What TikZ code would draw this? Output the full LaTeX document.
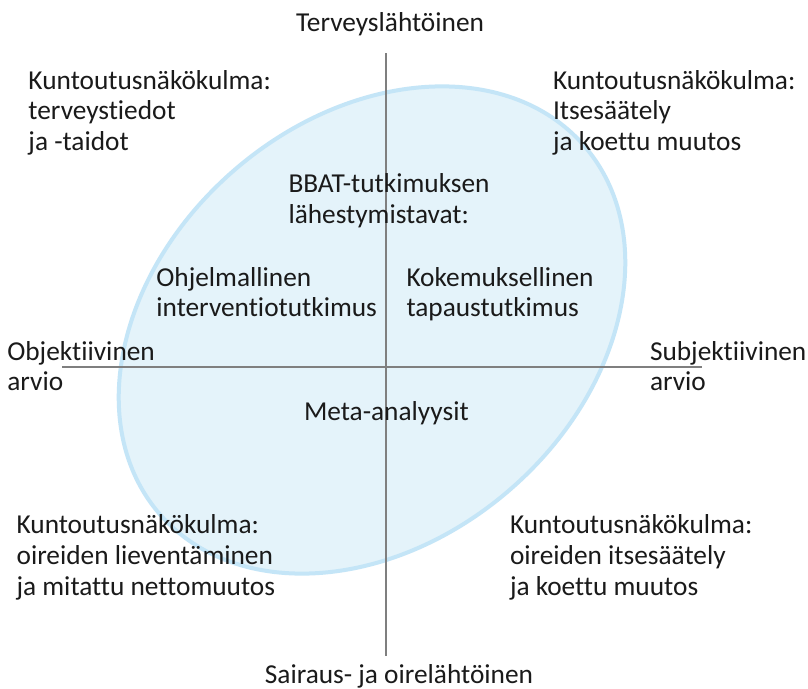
\documentclass[tikz,border=0pt]{standalone}
\usepackage{fontspec}
\setmainfont{Carlito}[Ligatures={NoCommon}]
\definecolor{ellfill}{HTML}{E4F3FA}
\definecolor{elldraw}{HTML}{C4E5F7}
\definecolor{axisgray}{HTML}{7F7F7F}
\definecolor{txt}{HTML}{1A1A1A}
\begin{document}
\begin{tikzpicture}[x=0.75pt,y=-0.75pt,
  lbl/.style={anchor=base west,inner sep=0pt,outer sep=0pt,align=left,text=txt,
    font=\fontsize{20.5pt}{22.9pt}\selectfont},
  axisline/.style={draw=axisgray,line width=1.5pt}]
\fill[white] (0,0) rectangle (808,689);
\useasboundingbox (0,0) rectangle (808,689);
% ellipse
\draw[fill=ellfill,draw=elldraw,line width=3pt] (372,330) ellipse[x radius=281*0.75pt,y radius=211*0.75pt,rotate=41];
% axes
\coordinate (vt) at (386,53);
\coordinate (vb) at (386,656);
\coordinate (hl) at (62,367);
\coordinate (hr) at (702,367);
\draw[axisline] (vt) -- (vb);
\draw[axisline] (hl) -- (hr);
% texts (anchor = baseline of the last line)
\node[lbl,anchor=base] (top) at (390,31.7) {Terveyslähtöinen};
\node[lbl,anchor=base] (bot) at (399,683) {Sairaus- ja oirelähtöinen};
\node[lbl] (tl) at (28.5,150.4) {Kuntoutusnäkökulma:\\terveystiedot\\ja -taidot};
\node[lbl] (tr) at (553,150.4) {Kuntoutusnäkökulma:\\Itsesäätely\\ja koettu muutos};
\node[lbl] (bbat) at (288.5,223) {BBAT-tutkimuksen\\lähestymistavat:};
\node[lbl] (ohj) at (156.4,316.8) {Ohjelmallinen\\interventiotutkimus};
\node[lbl] (kok) at (406.5,316.8) {Kokemuksellinen\\tapaustutkimus};
\node[lbl] (obj) at (7.3,390.9) {Objektiivinen\\arvio};
\node[lbl] (subj) at (650,390.9) {Subjektiivinen\\arvio};
\node[lbl] (meta) at (304,420.7) {Meta-analyysit};
\node[lbl] (bl) at (16.6,595) {Kuntoutusnäkökulma:\\oireiden lieventäminen\\ja mitattu nettomuutos};
\node[lbl] (br) at (510,595) {Kuntoutusnäkökulma:\\oireiden itsesäätely\\ja koettu muutos};
\end{tikzpicture}
\end{document}
